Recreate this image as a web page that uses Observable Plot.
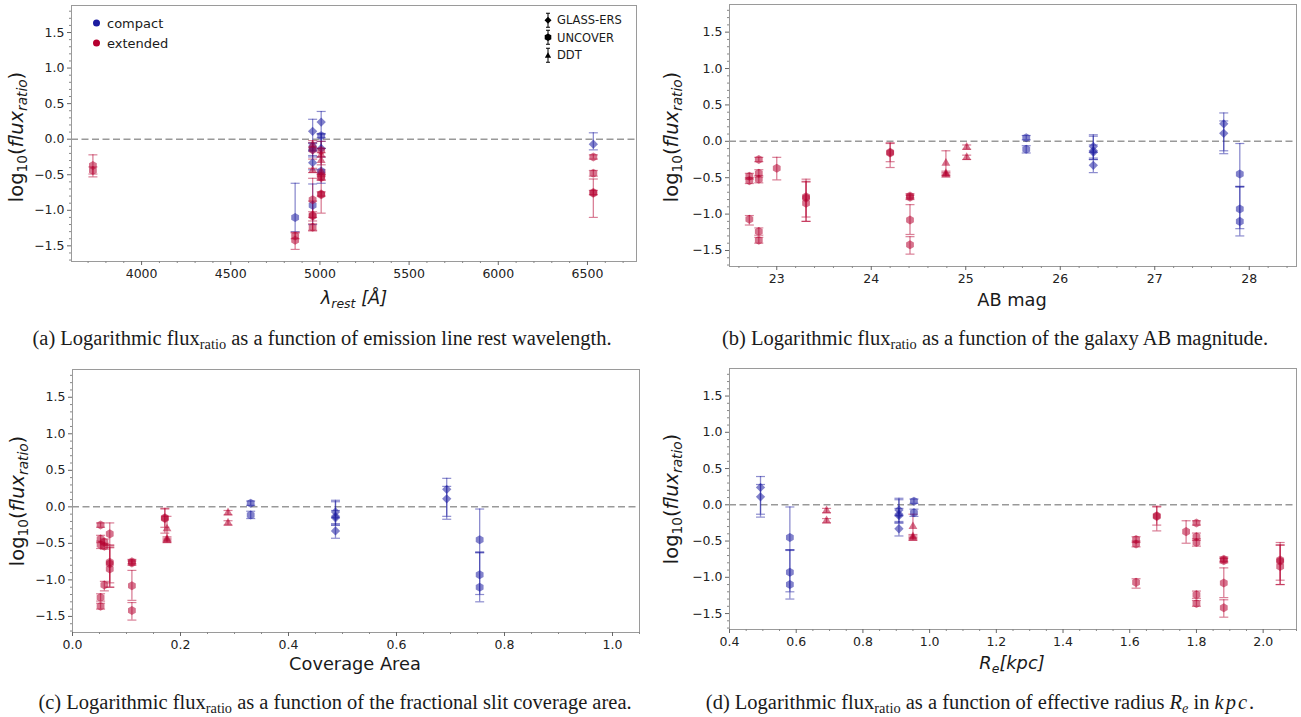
<!DOCTYPE html>
<html><head><meta charset="utf-8">
<script src="https://cdn.jsdelivr.net/npm/d3@7"></script>
<script src="https://cdn.jsdelivr.net/npm/@observablehq/plot@0.6"></script>
<style>
body{margin:0;background:#fff;width:1301px;height:717px;position:relative;overflow:hidden;font-family:"DejaVu Sans",sans-serif;color:#1a1a1a;}
.panel{position:absolute;}
.ylab{position:absolute;transform:translate(-50%,-50%) rotate(-90deg);font-size:19.5px;white-space:nowrap;}
.xlab{position:absolute;transform:translate(-50%,-50%);font-size:17.8px;white-space:nowrap;}
.cap{position:absolute;transform:translate(-50%,-50%);font-family:"Liberation Serif",serif;font-size:20.5px;white-space:nowrap;}
.sub{font-size:70%;position:relative;top:0.3em;line-height:0;}
.it{font-style:italic;}
.leg{position:absolute;white-space:nowrap;transform:translateY(-50%);}
</style></head>
<body>
<script>
// ---------------- data ----------------
const galaxyMorph  = ["compact","compact","compact","compact","extended","extended","extended","extended","extended","extended","extended","extended"];
const galaxySurvey = ["GLASS-ERS","UNCOVER","GLASS-ERS","UNCOVER","UNCOVER","UNCOVER","UNCOVER","UNCOVER","UNCOVER","UNCOVER","DDT","DDT"];
const galaxyABmag    = [27.73, 27.90, 26.35, 25.64, 22.71, 22.81, 23.00, 23.31, 24.20, 24.41, 24.79, 25.01];
const galaxyCoverage = [0.693, 0.754, 0.487, 0.330, 0.059, 0.052, 0.069, 0.069, 0.171, 0.110, 0.175, 0.288];
const galaxyRe       = [0.493, 0.581, 0.908, 0.953, 1.619, 1.800, 1.769, 2.051, 1.681, 1.882, 0.950, 0.691];

const pointGalaxy   = [0,0, 1,1,1, 2,2,2,2, 3,3, 4,4,4, 5,5,5,5,5, 6, 7,7,7, 8,8, 9,9,9,9, 10,10,10, 11,11];
const pointLine     = [4959,5007, 5007,4959,4861, 6533,4959,5007,4959, 5007,4959, 6533,5007,4959, 6533,3727,5007,4959,4861, 3727, 6533,5007,4959, 4959,5007, 6533,5007,4959,4861, 5007,4959,5007, 4959,5007];
const pointLogRatio = [0.11,0.24, -0.45,-0.93,-1.10, -0.07,-0.33,-0.13,-0.15, 0.05,-0.11, -0.48,-0.54,-1.07, -0.25,-0.44,-0.52,-1.24,-1.36, -0.37, -0.76,-0.78,-0.85, -0.15,-0.16, -0.75,-0.77,-1.08,-1.42, -0.30,-0.44,-0.46, -0.08,-0.22];
const pointErrLow   = [0.28,0.37, 0.17,0.27,0.20, 0.08,0.10,0.12,0.10, 0.03,0.05, 0.04,0.04,0.08, 0.03,0.05,0.05,0.05,0.04, 0.16, 0.34,0.26,0.25, 0.13,0.20, 0.03,0.03,0.20,0.13, 0.15,0.03,0.03, 0.03,0.03];
const pointErrHigh  = [0.17,0.15, 0.42,0.30,0.48, 0.16,0.10,0.20,0.10, 0.03,0.05, 0.04,0.04,0.05, 0.03,0.05,0.05,0.05,0.04, 0.15, 0.20,0.26,0.30, 0.13,0.13, 0.03,0.03,0.21,0.11, 0.17,0.03,0.03, 0.03,0.03];

const yTicks = [-1.5,-1.0,-0.5,0.0,0.5,1.0,1.5];
const lineTicks = [4000,4500,5000,5500,6000,6500];
const magTicks = [23,24,25,26,27,28];
const coverageTicks = [0.0,0.2,0.4,0.6,0.8,1.0];
const radiusTicks = [0.4,0.6,0.8,1.0,1.2,1.4,1.6,1.8,2.0];
const morphTypes = ["compact","extended"];
const surveys = ["GLASS-ERS","UNCOVER","DDT"];

// ---------------- build table ----------------
const points = pointGalaxy.map((g, i) => ({
  line: pointLine[i], mag: galaxyABmag[g], cov: galaxyCoverage[g], re: galaxyRe[g],
  y: pointLogRatio[i], lo: pointLogRatio[i] - pointErrLow[i], hi: pointLogRatio[i] + pointErrHigh[i],
  morph: galaxyMorph[g], survey: galaxySurvey[g]
}));

const colors = {compact: "#1c1ca0", extended: "#b5002f"};
const fmtSigned = d => (Math.abs(d) < 1e-9 ? "0.0" : d.toFixed(1).replace("-", "\u2212"));
const capSymbol = {draw(ctx) { ctx.moveTo(-4.5, 0); ctx.lineTo(4.5, 0); }};
const yMinor = d3.range(-17, 19).filter(i => i % 5 !== 0).map(i => i / 10);
const yDomain = [-1.72, 1.88];

const panels = [
  {key: "line", left: 0, top: 0, width: 650, height: 320, mL: 71, mR: 14, mT: 5, mB: 59,
   xDomain: [3607, 6775], ticks: lineTicks, minor: d3.range(37, 68).filter(i => i % 5 !== 0).map(i => i * 100), fmt: d => String(d)},
  {key: "mag", left: 650, top: 0, width: 651, height: 320, mL: 79, mR: 5, mT: 4, mB: 54,
   xDomain: [22.5, 28.5], ticks: magTicks, minor: d3.range(113, 143).filter(i => i % 5 !== 0).map(i => i / 5), fmt: d => String(d)},
  {key: "cov", left: 0, top: 360, width: 650, height: 320, mL: 72, mR: 11, mT: 9, mB: 48,
   xDomain: [0, 1.05], ticks: coverageTicks, minor: d3.range(1, 22).filter(i => i % 4 !== 0).map(i => i * 0.05), fmt: d => d.toFixed(1)},
  {key: "re", left: 650, top: 360, width: 651, height: 320, mL: 79, mR: 5, mT: 8, mB: 51,
   xDomain: [0.4, 2.1], ticks: radiusTicks, minor: d3.range(9, 43).filter(i => i % 4 !== 0).map(i => i * 0.05), fmt: d => d.toFixed(1)}
];

function symbolsFor(survey, sym, r, key) {
  return Plot.dot(points.filter(d => d.survey === survey), {
    x: key, y: "y", symbol: sym, r, fill: "morph", fillOpacity: 0.55, stroke: "none"
  });
}

for (const p of panels) {
  const chart = Plot.plot({
    width: p.width, height: p.height,
    marginLeft: p.mL, marginRight: p.mR, marginTop: p.mT, marginBottom: p.mB,
    x: {domain: p.xDomain, axis: null},
    y: {domain: yDomain, axis: null},
    color: {domain: morphTypes, range: [colors.compact, colors.extended]},
    style: {fontFamily: "DejaVu Sans", fontSize: "12.5px", color: "#222", background: "transparent", overflow: "visible"},
    marks: [
      Plot.ruleY([0], {stroke: "#999", strokeWidth: 1.5, strokeDasharray: "7,3.5"}),
      Plot.ruleX(points, {x: p.key, y1: "lo", y2: "hi", stroke: "morph", strokeOpacity: 0.5, strokeWidth: 1.3}),
      Plot.dot(points, {x: p.key, y: "lo", symbol: capSymbol, r: 4, stroke: "morph", strokeOpacity: 0.5, strokeWidth: 1.2, fill: "none"}),
      Plot.dot(points, {x: p.key, y: "hi", symbol: capSymbol, r: 4, stroke: "morph", strokeOpacity: 0.5, strokeWidth: 1.2, fill: "none"}),
      symbolsFor("GLASS-ERS", "diamond2", 4.2, p.key),
      symbolsFor("UNCOVER", "hexagon", 3.9, p.key),
      symbolsFor("DDT", "triangle", 3.3, p.key),
      Plot.frame({stroke: "#9a9a9a", strokeWidth: 1}),
      Plot.axisX({ticks: p.ticks, tickSize: 4, tickPadding: 4, tickFormat: p.fmt, label: null, stroke: "#666"}),
      Plot.axisX({ticks: p.minor, tickSize: 2, tickFormat: () => "", label: null, stroke: "#888"}),
      Plot.axisY({ticks: yTicks, tickSize: 4, tickPadding: 3, tickFormat: fmtSigned, label: null, stroke: "#666"}),
      Plot.axisY({ticks: yMinor, tickSize: 2, tickFormat: () => "", label: null, stroke: "#888"})
    ]
  });
  const div = document.createElement("div");
  div.className = "panel";
  div.style.left = p.left + "px";
  div.style.top = p.top + "px";
  div.appendChild(chart);
  document.body.appendChild(div);
}

// ---------------- text overlays ----------------
function add(cls, x, y, html, extra) {
  const el = document.createElement("div");
  el.className = cls;
  el.style.left = x + "px";
  el.style.top = y + "px";
  el.innerHTML = html;
  if (extra) Object.assign(el.style, extra);
  document.body.appendChild(el);
  return el;
}
const ylabel = 'log<span class="sub">10</span>(<span class="it">flux</span><span class="sub it">ratio</span>)';
add("ylab", 16, 137, ylabel);
add("ylab", 671, 137, ylabel);
add("ylab", 17, 501, ylabel);
add("ylab", 671, 499, ylabel);

add("xlab", 354, 297, '<span class="it">λ</span><span class="sub it">rest</span> <span class="it">[Å]</span>');
add("xlab", 1012, 299, 'AB mag');
add("xlab", 355, 663, 'Coverage Area');
add("xlab", 1012, 662, '<span class="it">R</span><span class="sub it">e</span><span class="it">[kpc]</span>');

add("cap", 322, 338, '(a) Logarithmic flux<span class="sub">ratio</span> as a function of emission line rest wavelength.');
add("cap", 995, 338, '(b) Logarithmic flux<span class="sub">ratio</span> as a function of the galaxy AB magnitude.');
add("cap", 335, 702, '(c) Logarithmic flux<span class="sub">ratio</span> as a function of the fractional slit coverage area.');
add("cap", 980, 702, '(d) Logarithmic flux<span class="sub">ratio</span> as a function of effective radius <span class="it">R<span class="sub">e</span></span> in <span class="it" style="letter-spacing:2px">kpc</span>.');

// legend: colour (morphology)
morphTypes.forEach((m, i) => {
  add("leg", 93, 22 + i * 20,
    `<span style="display:inline-block;width:7px;height:7px;border-radius:50%;background:${colors[m]};vertical-align:middle;margin-right:7px"></span><span style="font-size:13px;vertical-align:middle">${m}</span>`);
});
// legend: marker (survey)
const legendShapes = {
  "GLASS-ERS": '<path d="M5,5.5 L8.5,9 L5,12.5 L1.5,9 Z" fill="#000"/>',
  "UNCOVER": '<path d="M5,5.2 L8.3,7.1 L8.3,10.9 L5,12.8 L1.7,10.9 L1.7,7.1 Z" fill="#000"/>',
  "DDT": '<path d="M5,6 L8.2,11.5 L1.8,11.5 Z" fill="#000"/>'
};
surveys.forEach((s, i) => {
  add("leg", 543, 19 + i * 17.5,
    `<svg width="10" height="18" style="vertical-align:middle;margin-right:4px"><line x1="5" x2="5" y1="2" y2="16" stroke="#000" stroke-width="1"/><line x1="3" x2="7" y1="2" y2="2" stroke="#000"/><line x1="3" x2="7" y1="16" y2="16" stroke="#000"/>${legendShapes[s]}</svg><span style="font-size:11.5px;vertical-align:middle">${s}</span>`);
});
</script>
</body></html>
